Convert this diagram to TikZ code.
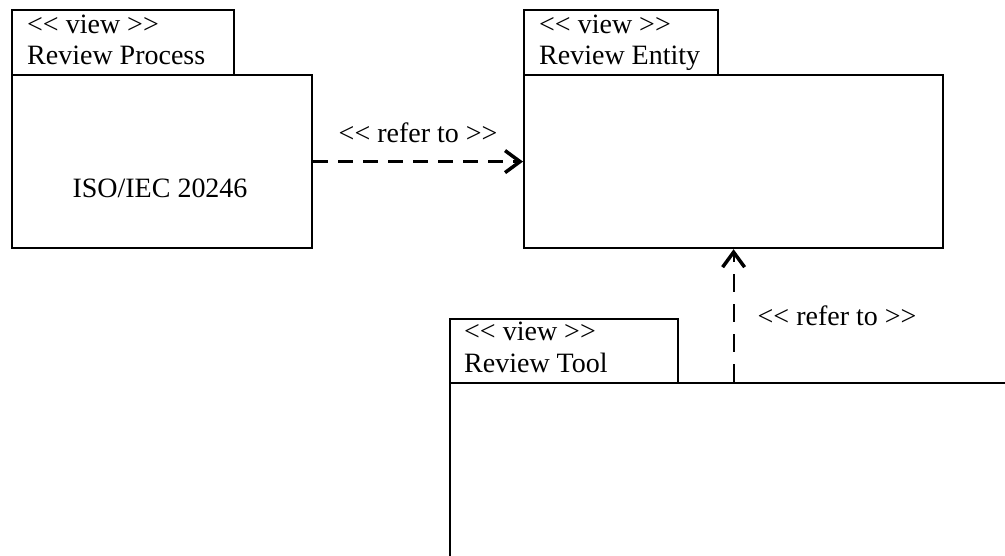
\documentclass[tikz,border=0pt]{standalone}
\usepackage{fontspec}
\setmainfont{Liberation Serif}
\usetikzlibrary{positioning,arrows.meta}

\newcommand{\stin}{<\kern0pt<}
\newcommand{\stout}{>\kern0pt>}

\tikzset{
    pkgbox/.style={draw, line width=2.2pt, inner sep=0pt, anchor=north west},
    pkgtext/.style={anchor=base west, inner sep=0pt},
    refer/.style={line width=2.2pt, dash pattern=on 15pt off 10pt,
        -{Straight Barb[length=15pt,width=22pt,line width=3.5pt]}}
}

\begin{document}
\begin{tikzpicture}[x=1pt,y=-1pt,font=\fontsize{28}{34}\selectfont]
    \clip (0,0) rectangle (1005,556);

    % Review Process package
    \node [pkgbox, minimum width=222pt, minimum height=65pt] (proctab) at (11,9) {};
    \node [pkgbox, minimum width=300pt, minimum height=173pt] (procbody) at (11,74) {};
    \node [pkgtext] (procview) at ([shift={(16pt,-25pt)}]proctab.north west) {\stin{} view \stout};
    \node [pkgtext] (procname) at ([shift={(16pt,-56pt)}]proctab.north west) {Review Process};
    \node (procnote) at (160,188) {ISO/IEC 20246};

    % Review Entity package
    \node [pkgbox, minimum width=194pt, minimum height=65pt] (enttab) at (523,9) {};
    \node [pkgbox, minimum width=419pt, minimum height=173pt] (entbody) at (523,74) {};
    \node [pkgtext] (entview) at ([shift={(16pt,-25pt)}]enttab.north west) {\stin{} view \stout};
    \node [pkgtext] (entname) at ([shift={(16pt,-56pt)}]enttab.north west) {Review Entity};

    % Review Tool package
    \node [pkgbox, minimum width=228pt, minimum height=64pt] (tooltab) at (449,318) {};
    \node [pkgbox, minimum width=600pt, minimum height=200pt] (toolbody) at (449,382) {};
    \node [pkgtext] (toolview) at ([shift={(15pt,-23pt)}]tooltab.north west) {\stin{} view \stout};
    \node [pkgtext] (toolname) at ([shift={(15pt,-55pt)}]tooltab.north west) {Review Tool};

    % Dependencies
    \draw [refer] (procbody.east) -- (entbody.west)
        node [midway, anchor=base, yshift=19pt, inner sep=0pt] (refer1) {\stin{} refer to \stout};
    \draw [refer, dash pattern=on 18pt off 12pt] (entbody.south |- toolbody.north) -- (entbody.south)
        node [midway, anchor=base west, xshift=23pt, yshift=-10pt, inner sep=0pt] (refer2) {\stin{} refer to \stout};
\end{tikzpicture}
\end{document}
